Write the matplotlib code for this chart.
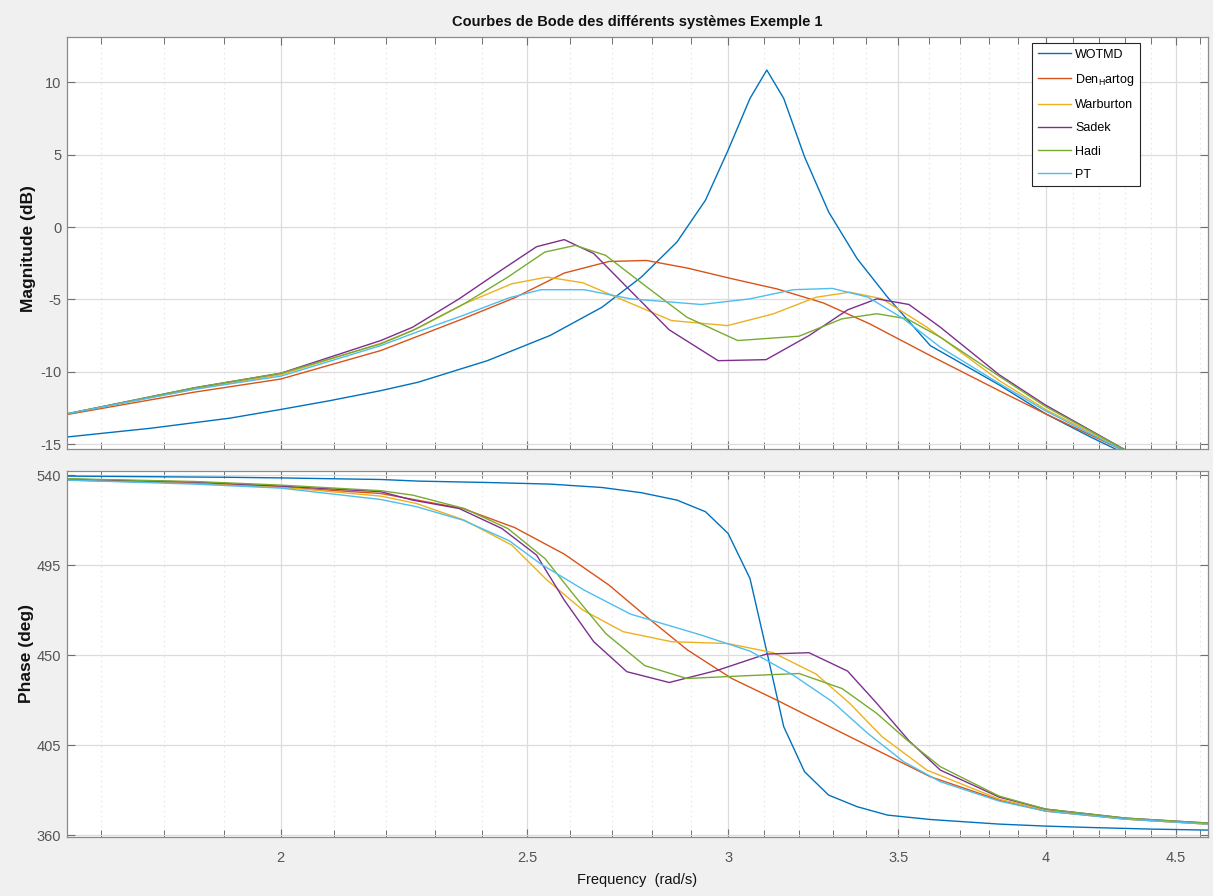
import numpy as np
import matplotlib
matplotlib.use("Agg")
import matplotlib.pyplot as plt
from matplotlib.ticker import FixedLocator, NullFormatter

# ---------------- data ----------------
# WOTMD
w_wotmd = [1.648, 1.777, 1.910, 2.000, 2.090, 2.190, 2.265, 2.412, 2.553, 2.676, 2.773, 2.864,
           2.939, 3.000, 3.060, 3.107, 3.155, 3.215, 3.286, 3.372, 3.466, 3.603, 3.835, 4.000,
           4.166, 4.400, 4.634]
mag_wotmd = [-14.5, -13.9, -13.2, -12.6, -12.0, -11.30, -10.72, -9.23, -7.49, -5.54, -3.46, -1.04,
             1.85, 5.31, 8.88, 10.84, 8.88, 4.85, 1.04, -2.19, -4.84, -8.19, -10.9, -12.9,
             -14.5, -16.5, -18.0]
ph_wotmd = [539.5, 539.2, 538.9, 538.6, 538.2, 537.8, 537.0, 536.3, 535.5, 533.8, 531.2, 527.5,
            521.7, 510.8, 488.3, 451.7, 414.2, 391.7, 380.0, 374.2, 370.0, 367.8, 365.5, 364.5,
            363.8, 363.0, 362.5]

# Den Hartog
w_den = [1.648, 1.850, 2.000, 2.190, 2.359, 2.472, 2.586, 2.693, 2.786, 2.892, 3.010, 3.135,
         3.270, 3.411, 3.603, 3.835, 4.000, 4.300, 4.634]
mag_den = [-12.95, -11.4, -10.5, -8.53, -6.34, -4.89, -3.18, -2.38, -2.31, -2.84, -3.57, -4.27,
           -5.24, -6.69, -8.88, -11.3, -12.9, -15.5, -18.0]
ph_den = [537.5, 536.0, 534.0, 530.8, 523.3, 513.8, 500.5, 485.0, 469.2, 452.5, 438.3, 427.5,
          415.8, 404.2, 389.2, 377.5, 372.0, 368.0, 365.5]

# Warburton
w_war = [1.648, 1.850, 2.000, 2.190, 2.262, 2.362, 2.466, 2.546, 2.630, 2.728, 2.850, 2.998,
         3.125, 3.249, 3.350, 3.449, 3.592, 3.835, 4.000, 4.300, 4.634]
mag_war = [-12.9, -11.2, -10.2, -8.03, -7.03, -5.30, -3.92, -3.46, -3.85, -5.05, -6.46, -6.81,
           -6.00, -4.85, -4.50, -4.96, -6.92, -10.6, -12.6, -15.4, -18.0]
ph_war = [537.8, 536.2, 534.0, 529.5, 525.8, 517.5, 505.0, 487.5, 472.5, 461.7, 456.7, 455.8,
          451.2, 440.5, 425.8, 409.2, 392.5, 378.0, 372.5, 368.0, 365.5]

# Sadek
w_sad = [1.648, 1.850, 2.000, 2.190, 2.254, 2.351, 2.444, 2.522, 2.586, 2.656, 2.737, 2.844,
         2.973, 3.105, 3.228, 3.343, 3.433, 3.534, 3.636, 3.835, 4.000, 4.300, 4.634]
mag_sad = [-12.9, -11.1, -10.1, -7.84, -6.92, -4.96, -2.95, -1.36, -0.87, -1.83, -4.15, -7.10,
           -9.23, -9.16, -7.50, -5.72, -4.96, -5.35, -6.92, -10.2, -12.3, -15.4, -18.0]
ph_sad = [538.0, 536.5, 534.5, 531.7, 527.5, 523.3, 513.3, 500.0, 477.5, 456.7, 441.7, 436.3,
          442.5, 450.5, 451.2, 442.0, 425.8, 407.2, 392.5, 379.0, 373.0, 368.5, 366.0]

# Hadi
w_had = [1.648, 1.850, 2.000, 2.190, 2.254, 2.362, 2.457, 2.541, 2.612, 2.685, 2.782, 2.890,
         3.026, 3.199, 3.326, 3.433, 3.528, 3.636, 3.835, 4.000, 4.300, 4.634]
mag_had = [-12.9, -11.1, -10.1, -8.07, -7.15, -5.30, -3.46, -1.73, -1.27, -1.96, -4.04, -6.23,
           -7.84, -7.54, -6.34, -5.99, -6.34, -7.61, -10.3, -12.4, -15.4, -18.0]
ph_had = [538.2, 536.8, 535.0, 532.2, 530.0, 523.3, 513.3, 498.3, 479.2, 460.8, 444.7, 438.3,
          439.5, 440.8, 433.3, 420.8, 407.5, 394.2, 379.5, 373.0, 368.5, 366.0]

# PT
w_pt = [1.648, 1.850, 2.000, 2.190, 2.262, 2.359, 2.460, 2.532, 2.633, 2.746, 2.928, 3.060,
        3.182, 3.297, 3.405, 3.517, 3.636, 3.835, 4.000, 4.300, 4.634]
mag_pt = [-12.9, -11.2, -10.3, -8.19, -7.26, -6.11, -4.89, -4.33, -4.33, -4.96, -5.35, -4.96,
          -4.33, -4.24, -4.84, -6.34, -8.30, -10.8, -12.7, -15.5, -18.0]
ph_pt = [537.5, 535.5, 533.5, 527.8, 524.2, 517.5, 507.2, 495.5, 482.5, 470.5, 460.0, 452.0,
         440.0, 426.7, 410.8, 396.7, 386.7, 377.0, 372.0, 368.0, 365.5]

labels = ["WOTMD", "Den$_H$artog", "Warburton", "Sadek", "Hadi", "PT"]
colors = ["#0072BD", "#D95319", "#EDB120", "#7E2F8E", "#77AC30", "#4DBEEE"]

freqs = [w_wotmd, w_den, w_war, w_sad, w_had, w_pt]
mags = [mag_wotmd, mag_den, mag_war, mag_sad, mag_had, mag_pt]
phases = [ph_wotmd, ph_den, ph_war, ph_sad, ph_had, ph_pt]

x_major = [2, 2.5, 3, 3.5, 4, 4.5]
x_minor = [1.7, 1.8, 1.9, 2.1, 2.2, 2.3, 2.4, 2.6, 2.7, 2.8, 2.9, 3.1, 3.2, 3.3, 3.4,
           3.6, 3.7, 3.8, 3.9, 4.1, 4.2, 4.3, 4.4, 4.6]
mag_ticks = [-15, -10, -5, 0, 5, 10]
ph_ticks = [360, 405, 450, 495, 540]

# ---------------- styling ----------------
plt.rcParams["font.family"] = ["Liberation Sans", "DejaVu Sans"]
plt.rcParams["mathtext.fontset"] = "custom"
plt.rcParams["mathtext.rm"] = "Liberation Sans"
plt.rcParams["mathtext.it"] = "Liberation Sans"

fig = plt.figure(figsize=(12.13, 8.96), dpi=100, facecolor="#F0F0F0")
W, H = 1213, 896
left, right = 67 / W, 1208 / W
ax1 = fig.add_axes([left, 1 - 449.3 / H, right - left, (449.3 - 37.3) / H])
ax2 = fig.add_axes([left, 1 - 836.7 / H, right - left, (836.7 - 470.7) / H])

for ax in (ax1, ax2):
    ax.set_xscale("log")
    ax.set_xlim(1.648, 4.634)
    ax.xaxis.set_major_locator(FixedLocator(x_major))
    ax.xaxis.set_minor_locator(FixedLocator(x_minor))
    ax.xaxis.set_minor_formatter(NullFormatter())
    ax.grid(True, which="major", color="#DCDCDC", lw=0.9, ls="-")
    ax.grid(True, which="minor", axis="x", color="#E8E8E8", lw=0.8, ls=(0, (1.5, 3)))
    ax.set_axisbelow(True)
    ax.tick_params(which="both", direction="in", top=True, right=True,
                   colors="#707070", labelcolor="#555555", labelsize=10.5)
    ax.tick_params(which="major", length=6, width=0.8)
    ax.tick_params(which="minor", length=5, width=0.7)
    for s in ax.spines.values():
        s.set_color("#8A8A8A")
        s.set_linewidth(0.9)

for w, m, c, lab in zip(freqs, mags, colors, labels):
    ax1.plot(w, m, color=c, lw=1.0, label=lab)
for w, p, c in zip(freqs, phases, colors):
    ax2.plot(w, p, color=c, lw=1.0)

ax1.set_ylim(-15.35, 13.1)
ax1.set_yticks(mag_ticks)
ax1.set_yticklabels([str(t) for t in mag_ticks])
ax1.tick_params(axis="x", labelbottom=False)
ax1.tick_params(axis="y", pad=4)

ax2.set_ylim(359.2, 542.2)
ax2.set_yticks(ph_ticks)
ax2.set_yticklabels([str(t) for t in ph_ticks])
ax2.set_xticklabels([str(t) for t in x_major])
ax2.tick_params(axis="x", pad=10)
ax2.tick_params(axis="y", pad=4)

fig.text(637 / W, 1 - 22 / H, "Courbes de Bode des différents systèmes Exemple 1",
         ha="center", va="center", fontsize=10.5, fontweight="bold", color="#111111")
fig.text(637 / W, 1 - 880 / H, "Frequency  (rad/s)", ha="center", va="center",
         fontsize=10.5, color="#111111")
fig.text(29 / W, 1 - 249 / H, "Magnitude (dB)", rotation=90, ha="center", va="center",
         fontsize=12.5, fontweight="bold", color="#111111")
fig.text(27 / W, 1 - 653 / H, "Phase (deg)", rotation=90, ha="center", va="center",
         fontsize=12.5, fontweight="bold", color="#111111")

leg = ax1.legend(loc="upper left", bbox_to_anchor=(1032 / W, 1 - 43 / H),
                 bbox_transform=fig.transFigure, borderaxespad=0, fontsize=9,
                 frameon=True, fancybox=False, edgecolor="#262626", framealpha=1,
                 handlelength=2.7, handletextpad=0.3, labelspacing=0.9, borderpad=0.45)
leg.get_frame().set_linewidth(0.8)

fig.savefig("out.png", dpi=100, facecolor=fig.get_facecolor())
